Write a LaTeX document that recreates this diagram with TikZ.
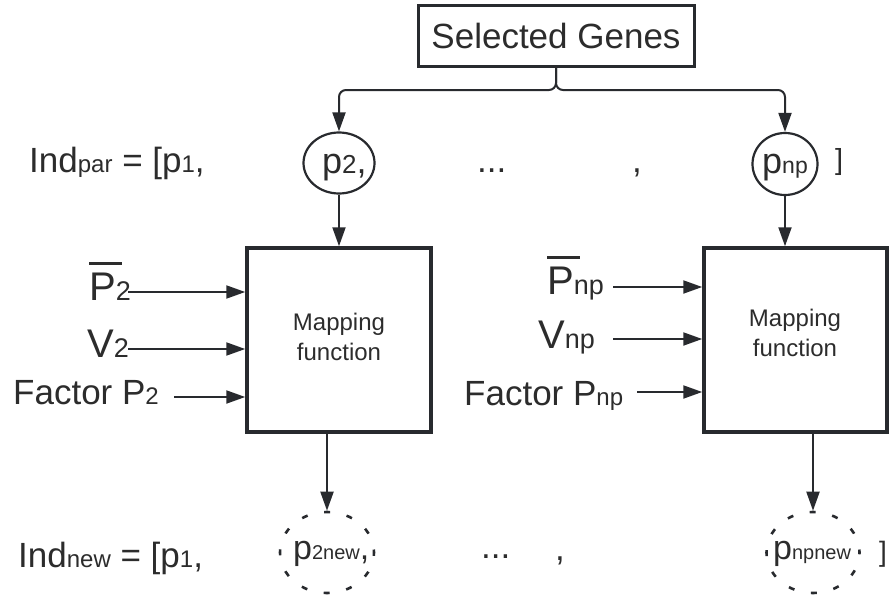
\documentclass[tikz,border=0pt]{standalone}
\usepackage{fontspec}
\setmainfont{Liberation Sans}
\usetikzlibrary{arrows.meta,shapes.geometric}
\definecolor{ink}{RGB}{40,42,46}
\definecolor{txt}{RGB}{44,44,44}
% font size in pt (1pt = one unit of the picture)
\newcommand\fs[1]{\fontsize{#1}{#1}\selectfont}
% smaller index text sitting on the baseline
\newcommand\sm[2]{{\fs{#1}#2}}
% letter with a thick bar above it
\newcommand\barred[1]{\rlap{\rule[35pt]{33pt}{3.2pt}}#1}
\begin{document}
\begin{tikzpicture}[x=1pt,y=-1pt,
  lbl/.style={inner sep=0pt, anchor=base west, text=txt},
  arr/.style={draw=ink, line width=2pt, -{Triangle[length=19pt,width=13pt]}},
  box/.style={draw=ink, line width=3.5pt, inner sep=0pt, text=txt},
  gene/.style={ellipse, draw=ink, line width=2.2pt, inner sep=0pt},
  newgene/.style={ellipse, draw=ink, line width=2.6pt, dash pattern=on 6pt off 16.9pt, dash phase=3pt, inner sep=0pt},
  mtext/.style={inner sep=0pt, align=center, text=txt, font=\fontsize{24}{30}\selectfont}]
\useasboundingbox (0,0) rectangle (889,597);

% source box
\node[box, line width=3pt, minimum width=276pt, minimum height=61pt, font=\fs{35}] (sg) at (556,35.5) {Selected Genes};
\coordinate (jn) at (556,90);

% parent genes
\node[gene, minimum width=71pt, minimum height=61pt] (c2) at (339,163) {};
\node[gene, minimum width=65pt, minimum height=62pt] (cnp) at (785,164) {};
\node[lbl, font=\fs{36}] (t2) at (322,173) {p\sm{26}{2},};
\node[lbl, font=\fs{36}] (tnp) at (762,173) {p\sm{23}{np}};

\node[lbl, font=\fs{35}] (indpar) at (29,172) {Ind\sm{24}{par} = [p\sm{24}{1},};
\node[lbl, font=\fs{35}] (dots1) at (477,172) {...};
\node[lbl, font=\fs{35}] (comma1) at (632,172) {,};
\node[lbl, font=\fs{29}] (rb1) at (835,169) {]};

\draw[arr, rounded corners=7pt] (sg.south) -- (jn) -- (jn -| c2.north) -- (c2.north);
\draw[arr, rounded corners=7pt] (sg.south) -- (jn) -- (jn -| cnp.north) -- (cnp.north);

% mapping blocks
\node[box, minimum width=184pt, minimum height=184pt] (mapL) at (339,340) {};
\node[box, minimum width=183pt, minimum height=184pt] (mapR) at (795.5,340) {};
\node[mtext] (mtL) at (339,337) {Mapping\\function};
\node[mtext] (mtR) at (795,333) {Mapping\\function};

\draw[arr] (c2.south) -- (mapL.north);
\draw[arr] (cnp.south) -- (cnp.south |- mapR.north);

% inputs of the left block
\node[lbl, font=\fs{40}] (pbar2) at (89,300) {\barred{P}\sm{27}{2}};
\node[lbl, font=\fs{40}] (v2) at (87,357) {V\sm{27}{2}};
\node[lbl, font=\fs{35}] (fac2) at (13,404) {Factor P\sm{24}{2}};
\coordinate (aP2) at (128,292);
\coordinate (aV2) at (128,349);
\coordinate (aF2) at (174,397);
\draw[arr] (aP2) -- (aP2 -| mapL.west);
\draw[arr] (aV2) -- (aV2 -| mapL.west);
\draw[arr] (aF2) -- (aF2 -| mapL.west);

% inputs of the right block
\node[lbl, font=\fs{40}] (pbarnp) at (547,294) {\barred{P}\sm{27}{np}};
\node[lbl, font=\fs{40}] (vnp) at (538,348) {V\sm{27}{np}};
\node[lbl, font=\fs{35}] (facnp) at (464,405) {Factor P\sm{24}{np}};
\coordinate (aPn) at (613,287);
\coordinate (aVn) at (613,339);
\coordinate (aFn) at (637,392);
\draw[arr] (aPn) -- (aPn -| mapR.west);
\draw[arr] (aVn) -- (aVn -| mapR.west);
\draw[arr] (aFn) -- (aFn -| mapR.west);

% new genes
\node[newgene, minimum width=94pt, minimum height=81pt] (n2) at (327,552.5) {};
\node[newgene, minimum width=93pt, minimum height=81pt] (nnp) at (813,552.5) {};
\node[lbl, font=\fs{34}] (n2t) at (293,559) {p\sm{20}{2new},};
\node[lbl, font=\fs{34}] (nnpt) at (773,559) {p\sm{20}{npnew}};

\node[lbl, font=\fs{35}] (indnew) at (18,567) {Ind\sm{24}{new} = [p\sm{24}{1},};
\node[lbl, font=\fs{35}] (dots2) at (481,558) {...};
\node[lbl, font=\fs{35}] (comma2) at (555,560) {,};
\node[lbl, font=\fs{28}] (rb2) at (879,561) {]};

\draw[arr] (mapL.south -| n2.north) -- (n2.north);
\draw[arr] (mapR.south -| nnp.north) -- (nnp.north);
\end{tikzpicture}
\end{document}
